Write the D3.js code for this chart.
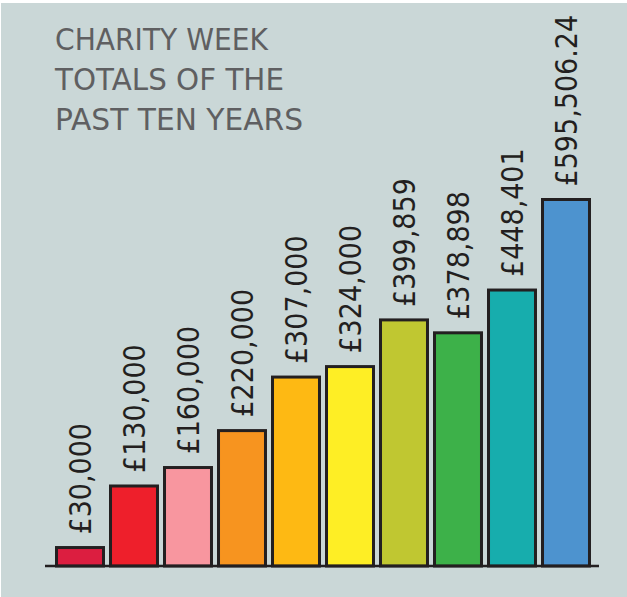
<!DOCTYPE html>
<html>
<head>
<meta charset="utf-8">
<script src="https://cdn.jsdelivr.net/npm/d3@7"></script>
<style>
  html, body { margin: 0; padding: 0; background: #ffffff; }
  svg { display: block; }
</style>
</head>
<body>
<svg id="chart"></svg>
<script>
const width = 627;
const height = 597;

// data
const years = ["Y1", "Y2", "Y3", "Y4", "Y5", "Y6", "Y7", "Y8", "Y9", "Y10"];
const totals = [30000, 130000, 160000, 220000, 307000, 324000, 399859, 378898, 448401, 595506.24];
const barColours = ["#dc1e40", "#ee1f2b", "#f8969f", "#f7941f", "#feb913", "#feee25", "#c0c731", "#3db149", "#17adad", "#4d93cf"];
const titleLines = ["CHARITY WEEK", "TOTALS OF THE", "PAST TEN YEARS"];
const titleWidths = [213, 229, 248];

const svg = d3.select('#chart')
    .attr('width', width)
    .attr('height', height);

svg.append('rect')
    .attr('x', 1)
    .attr('y', 3)
    .attr('width', width - 1)
    .attr('height', height - 3)
    .attr('fill', '#cad7d7');

const x = d3.scaleBand()
    .domain(years)
    .range([53, 593])
    .paddingInner(0.13)
    .paddingOuter(0.065);

const y = d3.scaleLinear()
    .domain([0, d3.max(totals)])
    .range([566, 199.5]);

const fmt = d3.format(",");
const data = years.map((k, i) => ({ key: k, value: totals[i], colour: barColours[i] }));

// title
svg.append('g')
    .selectAll('text')
    .data(titleLines)
    .enter().append('text')
    .attr('x', 55)
    .attr('y', (d, i) => 50 + i * 40)
    .attr('textLength', (d, i) => titleWidths[i])
    .attr('lengthAdjust', 'spacingAndGlyphs')
    .style('font-family', '"DejaVu Sans", sans-serif')
    .style('font-size', '30px')
    .style('fill', '#5f5f61')
    .text(d => d);

// bars
svg.append('g')
    .selectAll('rect')
    .data(data)
    .enter().append('rect')
    .attr('x', d => x(d.key))
    .attr('y', d => y(d.value))
    .attr('width', x.bandwidth())
    .attr('height', d => y(0) - y(d.value))
    .attr('fill', d => d.colour)
    .attr('stroke', '#231f20')
    .attr('stroke-width', 3);

// baseline
svg.append('line')
    .attr('x1', 45)
    .attr('x2', 599)
    .attr('y1', y(0))
    .attr('y2', y(0))
    .attr('stroke', '#231f20')
    .attr('stroke-width', 2.5);

// value labels
svg.append('g')
    .selectAll('text')
    .data(data)
    .enter().append('text')
    .attr('transform', d => `translate(${x(d.key) + x.bandwidth() / 2 + 11},${y(d.value) - 13}) rotate(-90)`)
    .style('font-family', '"DejaVu Sans Condensed", "DejaVu Sans", sans-serif')
    .style('font-stretch', 'condensed')
    .style('font-size', '30px')
    .style('fill', '#231f20')
    .text(d => '£' + fmt(d.value));
</script>
</body>
</html>
